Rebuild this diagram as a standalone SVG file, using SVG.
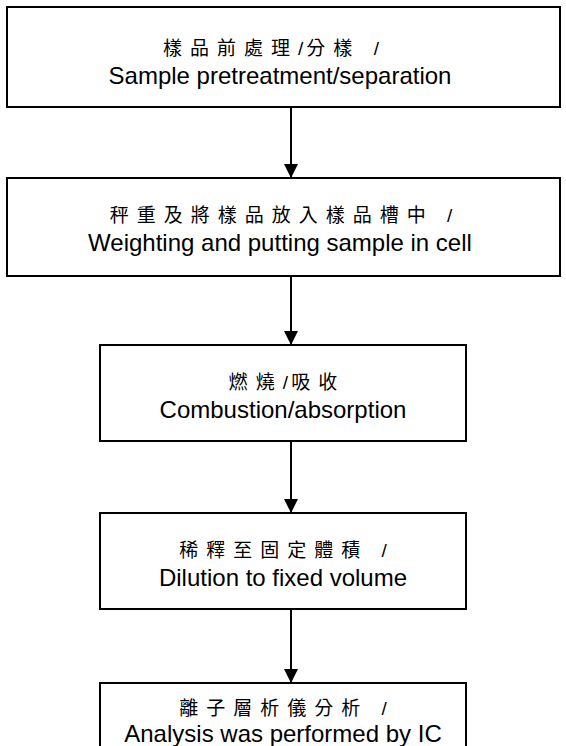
<svg xmlns="http://www.w3.org/2000/svg" width="566" height="746" viewBox="0 0 566 746">
<style>
.box{fill:#fff;stroke:#000;stroke-width:2}
.zh{font-family:"Liberation Sans","Noto Sans CJK TC",sans-serif;font-size:19px;letter-spacing:8px;fill:#000;text-anchor:middle}
.sl{letter-spacing:3px}
.en{font-family:"Liberation Sans",Arial,sans-serif;font-size:24px;fill:#000;text-anchor:middle}
.conn{stroke:#000;stroke-width:2;fill:none}
</style>
<defs>
<marker id="ah" markerWidth="14" markerHeight="16" refX="13" refY="7" orient="auto" markerUnits="userSpaceOnUse">
<path d="M0,0 L14,7 L0,14 Z" fill="#000"/>
</marker>
</defs>
<rect width="566" height="746" fill="#fff"/>
<g id="n1">
<rect class="box" x="7" y="7" width="553" height="100"/>
<text class="zh" x="275" y="55">樣品前處理<tspan class="sl">/</tspan>分樣 /</text>
<text class="en" x="280" y="84">Sample pretreatment/separation</text>
</g>
<g id="n2">
<rect class="box" x="7" y="178" width="553" height="98"/>
<text class="zh" x="285" y="222">秤重及將樣品放入樣品槽中 /</text>
<text class="en" x="280" y="251">Weighting and putting sample in cell</text>
</g>
<g id="n3">
<rect class="box" x="100" y="345" width="366" height="96"/>
<text class="zh" x="287" y="389">燃燒<tspan class="sl">/</tspan>吸收</text>
<text class="en" x="283" y="418">Combustion/absorption</text>
</g>
<g id="n4">
<rect class="box" x="100" y="513" width="366" height="96"/>
<text class="zh" x="287" y="557">稀釋至固定體積 /</text>
<text class="en" x="283" y="586">Dilution to fixed volume</text>
</g>
<g id="n5">
<rect class="box" x="100" y="683" width="366" height="90"/>
<text class="zh" x="287" y="715">離子層析儀分析 /</text>
<text class="en" x="283" y="742">Analysis was performed by IC</text>
</g>
<g id="connectors">
<line class="conn" x1="291" y1="107" x2="291" y2="177" marker-end="url(#ah)"/>
<line class="conn" x1="291" y1="276" x2="291" y2="344" marker-end="url(#ah)"/>
<line class="conn" x1="291" y1="441" x2="291" y2="512" marker-end="url(#ah)"/>
<line class="conn" x1="291" y1="609" x2="291" y2="682" marker-end="url(#ah)"/>
</g>
</svg>
